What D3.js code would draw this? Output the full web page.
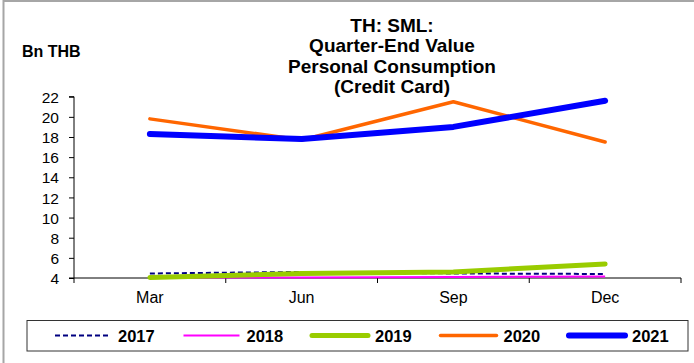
<!DOCTYPE html>
<html>
<head>
<meta charset="utf-8">
<script src="https://cdn.jsdelivr.net/npm/d3@7"></script>
<style>
  html, body { margin: 0; padding: 0; background: #fff; }
  svg { display: block; }
  text { font-family: "Liberation Sans", Arial, sans-serif; fill: #000; }
</style>
</head>
<body>
<svg id="chart" width="694" height="363"></svg>
<script>
// Quarter-end credit card spending (Bn THB)
const months = ["Mar", "Jun", "Sep", "Dec"];
const years = ["2017", "2018", "2019", "2020", "2021"];
const v2017 = [4.45, 4.6, 4.45, 4.4];
const v2018 = [4.05, 4.05, 4.1, 4.15];
const v2019 = [4.05, 4.45, 4.6, 5.4];
const v2020 = [19.8, 17.7, 21.5, 17.5];
const v2021 = [18.3, 17.8, 19.0, 21.6];
const yTicks = [4, 6, 8, 10, 12, 14, 16, 18, 20, 22];
const titleLines = ["TH: SML:", "Quarter-End Value", "Personal Consumption", "(Credit Card)"];
const unitLabel = "Bn THB";

const seriesValues = [v2017, v2018, v2019, v2020, v2021];
const styles = [
  { color: "#000080", width: 2, dash: "5,3", cap: "butt" },
  { color: "#ff00ff", width: 2, dash: null, cap: "butt" },
  { color: "#99cc00", width: 5, dash: null, cap: "round" },
  { color: "#ff6600", width: 3.5, dash: null, cap: "round" },
  { color: "#0000ff", width: 6, dash: null, cap: "round" }
];

const svg = d3.select("#chart");

// outer frame (left and top edges)
svg.append("line").attr("x1", 3.5).attr("x2", 3.5).attr("y1", 0).attr("y2", 363)
  .attr("stroke", "#a6a6a6").attr("stroke-width", 2);
svg.append("line").attr("x1", 3).attr("x2", 694).attr("y1", 1).attr("y2", 1)
  .attr("stroke", "#a6a6a6").attr("stroke-width", 2);

const plot = { left: 74, right: 681, top: 96.7, bottom: 278 };

const x = d3.scaleBand().domain(months).range([plot.left, plot.right]).padding(0);
const y = d3.scaleLinear().domain([4, 22]).range([plot.bottom, plot.top]);

// y axis
const yAxis = svg.append("g")
  .attr("transform", `translate(${plot.left},0)`)
  .call(d3.axisLeft(y).tickValues(yTicks).tickSize(5).tickPadding(10).tickFormat(d3.format("d")));
yAxis.select(".domain").attr("stroke", "#000").attr("d", `M-5,${plot.top}H0V${plot.bottom}H-5`);
yAxis.selectAll(".tick line").attr("stroke", "#000");
yAxis.selectAll(".tick text").style("font-size", "15.5px").attr("dy", "0.36em");

// x axis with ticks on the category boundaries
const xAxis = svg.append("g").attr("transform", `translate(0,${plot.bottom})`);
xAxis.append("line").attr("x1", plot.left).attr("x2", plot.right).attr("stroke", "#000");
const bounds = months.map(m => x(m)).concat([x(months[months.length - 1]) + x.bandwidth()]);
xAxis.selectAll("line.tk").data(bounds).join("line").attr("class", "tk")
  .attr("x1", d => d).attr("x2", d => d).attr("y1", 0).attr("y2", 5).attr("stroke", "#000");
xAxis.selectAll("text").data(months).join("text")
  .attr("x", d => x(d) + x.bandwidth() / 2).attr("y", 25)
  .attr("text-anchor", "middle").style("font-size", "16px").text(d => d);

// series lines
const line = d3.line().x((d, i) => x(months[i]) + x.bandwidth() / 2).y(d => y(d));
seriesValues.forEach((vals, k) => {
  const s = styles[k];
  svg.append("path").datum(vals).attr("d", line)
    .attr("fill", "none").attr("stroke", s.color).attr("stroke-width", s.width)
    .attr("stroke-linecap", s.cap).attr("stroke-linejoin", "round")
    .attr("stroke-dasharray", s.dash);
});

// title
svg.append("g").selectAll("text").data(titleLines).join("text")
  .attr("x", 392).attr("y", (d, i) => 31.5 + i * 20.6)
  .attr("text-anchor", "middle").style("font-size", "19px").style("font-weight", "bold")
  .text(d => d);

svg.append("text").attr("x", 22).attr("y", 57)
  .style("font-size", "16px").style("font-weight", "bold").text(unitLabel);

// legend
const legend = svg.append("g");
legend.append("rect").attr("x", 27).attr("y", 320.5).attr("width", 661).attr("height", 30.5)
  .attr("fill", "#fff").attr("stroke", "#333");
const item = legend.selectAll("g.item").data(years).join("g").attr("class", "item")
  .attr("transform", (d, i) => `translate(${55 + i * 128.5},335.5)`);
item.append("line").attr("x1", 0).attr("x2", 56)
  .attr("stroke", (d, i) => styles[i].color).attr("stroke-width", (d, i) => styles[i].width)
  .attr("stroke-dasharray", (d, i) => styles[i].dash)
  .attr("stroke-linecap", (d, i) => styles[i].cap);
item.append("text").attr("x", 63).attr("y", 6)
  .style("font-size", "16.5px").style("font-weight", "bold").text(d => d);
</script>
</body>
</html>
